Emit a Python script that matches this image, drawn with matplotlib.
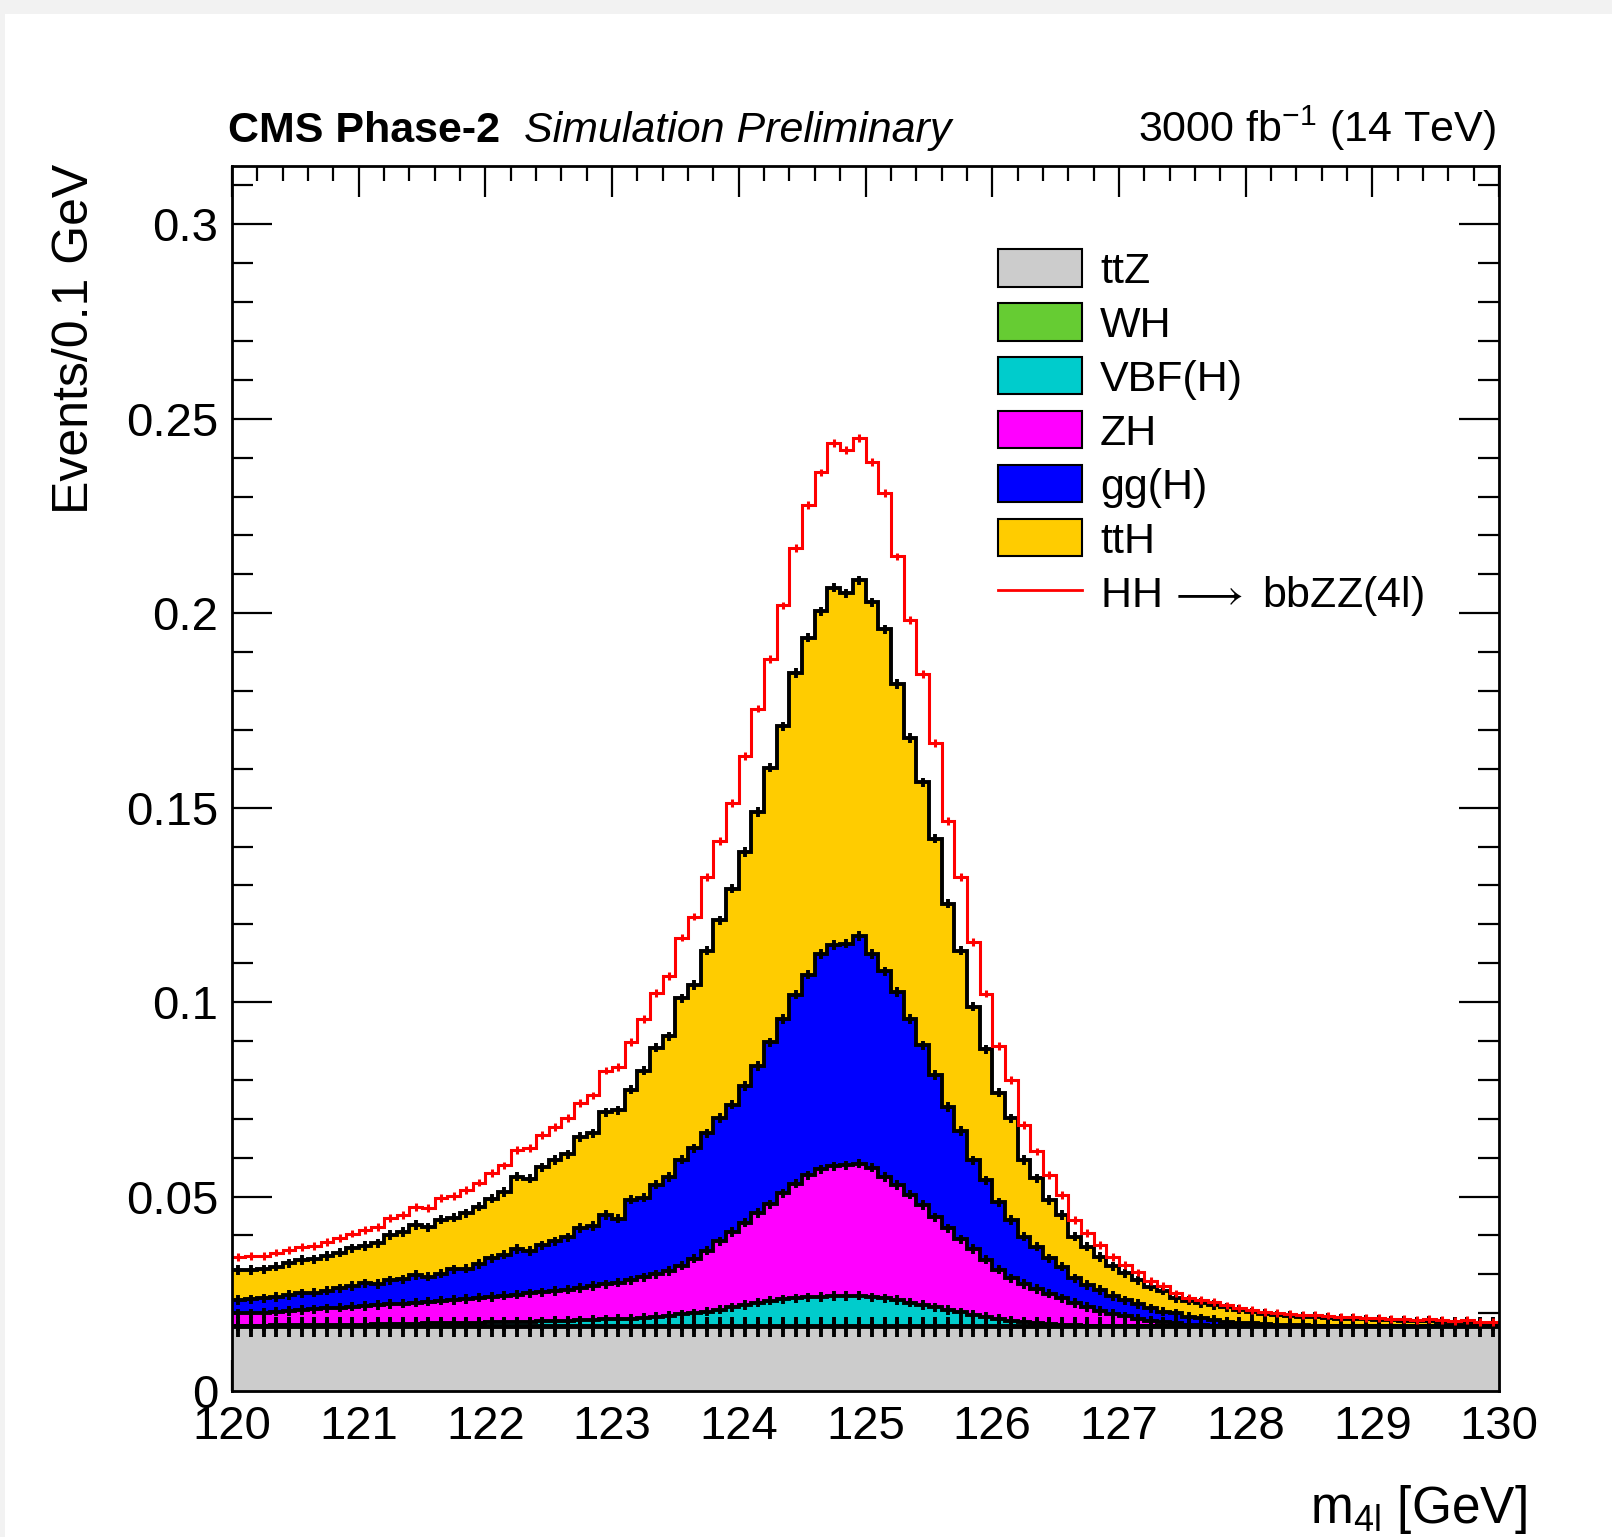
import numpy as np
import matplotlib
matplotlib.use("Agg")
import matplotlib.pyplot as plt
from matplotlib.patches import Patch, Rectangle
from matplotlib.lines import Line2D
from matplotlib.ticker import MultipleLocator, FixedLocator

plt.rcParams['font.family'] = ['Liberation Sans', 'DejaVu Sans']
plt.rcParams['mathtext.fontset'] = 'custom'
plt.rcParams['mathtext.rm'] = 'Liberation Sans'
plt.rcParams['mathtext.it'] = 'Liberation Sans:italic'

# m4l binning: 100 bins of 0.1 GeV
edges = np.linspace(120.0, 130.0, 101)

# per-process yields (events / 0.1 GeV), read bin by bin from the plot
ttZ = [0.0165] * 100

WH = [0.0001] * 30 + [0.0002] * 10 + [0.0003] * 16 + [0.0002] * 10 + [0.0001] * 34

VBF = [0.0002, 0.0002, 0.0002, 0.0003, 0.0003, 0.0003, 0.0004, 0.0004, 0.0004, 0.0005,
       0.0005, 0.0006, 0.0006, 0.0007, 0.0007, 0.0008, 0.0008, 0.0009, 0.0009, 0.0010,
       0.0011, 0.0011, 0.0012, 0.0012, 0.0013, 0.0014, 0.0015, 0.0016, 0.0017, 0.0018,
       0.0018, 0.0019, 0.0021, 0.0024, 0.0027, 0.0030, 0.0033, 0.0037, 0.0042, 0.0048,
       0.0053, 0.0059, 0.0064, 0.0068, 0.0070, 0.0073, 0.0074, 0.0076, 0.0076, 0.0077,
       0.0073, 0.0070, 0.0066, 0.0059, 0.0053, 0.0047, 0.0041, 0.0035, 0.0029, 0.0023,
       0.0018, 0.0014, 0.0010, 0.0007, 0.0005, 0.0004, 0.0003, 0.0002, 0.0002, 0.0001,
       0.0001, 0.0001, 0.0001, 0.0001, 0.0001, 0.0001, 0.0001, 0.0001, 0.0001, 0.0001,
       0.0001, 0.0000, 0.0000, 0.0000, 0.0000, 0.0000, 0.0000, 0.0000, 0.0000, 0.0000,
       0.0000, 0.0000, 0.0000, 0.0000, 0.0000, 0.0000, 0.0000, 0.0000, 0.0000, 0.0000]

ZH = [0.0032, 0.0032, 0.0033, 0.0035, 0.0037, 0.0039, 0.0040, 0.0043, 0.0044, 0.0046,
      0.0048, 0.0049, 0.0052, 0.0052, 0.0054, 0.0056, 0.0058, 0.0059, 0.0062, 0.0064,
      0.0065, 0.0068, 0.0070, 0.0073, 0.0075, 0.0077, 0.0080, 0.0083, 0.0087, 0.0090,
      0.0094, 0.0099, 0.0104, 0.0109, 0.0115, 0.0125, 0.0140, 0.0157, 0.0176, 0.0194,
      0.0212, 0.0231, 0.0248, 0.0272, 0.0295, 0.0314, 0.0328, 0.0334, 0.0336, 0.0340,
      0.0333, 0.0312, 0.0296, 0.0278, 0.0257, 0.0232, 0.0210, 0.0188, 0.0169, 0.0148,
      0.0127, 0.0109, 0.0098, 0.0088, 0.0078, 0.0067, 0.0057, 0.0048, 0.0038, 0.0031,
      0.0025, 0.0019, 0.0014, 0.0010, 0.0007, 0.0004, 0.0002, 0.0001, 0.0001, 0.0001,
      0.0001, 0.0001, 0.0001, 0.0001, 0.0001, 0.0001, 0.0000, 0.0000, 0.0000, 0.0000,
      0.0000, 0.0000, 0.0000, 0.0000, 0.0000, 0.0000, 0.0000, 0.0000, 0.0000, 0.0000]

ggH = [0.0034, 0.0036, 0.0037, 0.0038, 0.0041, 0.0043, 0.0043, 0.0045, 0.0050, 0.0053,
       0.0058, 0.0054, 0.0061, 0.0062, 0.0071, 0.0064, 0.0070, 0.0079, 0.0078, 0.0087,
       0.0099, 0.0106, 0.0117, 0.0109, 0.0121, 0.0128, 0.0134, 0.0154, 0.0154, 0.0179,
       0.0164, 0.0207, 0.0205, 0.0231, 0.0241, 0.0273, 0.0284, 0.0302, 0.0317, 0.0327,
       0.0351, 0.0378, 0.0417, 0.0449, 0.0486, 0.0516, 0.0554, 0.0569, 0.0570, 0.0585,
       0.0550, 0.0529, 0.0496, 0.0452, 0.0411, 0.0366, 0.0312, 0.0279, 0.0228, 0.0204,
       0.0173, 0.0150, 0.0122, 0.0109, 0.0091, 0.0082, 0.0064, 0.0057, 0.0054, 0.0046,
       0.0041, 0.0038, 0.0032, 0.0027, 0.0026, 0.0020, 0.0018, 0.0015, 0.0010, 0.0008,
       0.0006, 0.0005, 0.0004, 0.0003, 0.0002, 0.0001, 0.0001, 0.0001, 0.0001, 0.0001,
       0.0001, 0.0001, 0.0001, 0.0000, 0.0000, 0.0000, 0.0000, 0.0000, 0.0000, 0.0000]

ttH = [0.0077, 0.0075, 0.0075, 0.0078, 0.0081, 0.0086, 0.0086, 0.0089, 0.0092, 0.0097,
       0.0096, 0.0105, 0.0116, 0.0122, 0.0129, 0.0127, 0.0139, 0.0133, 0.0142, 0.0147,
       0.0154, 0.0161, 0.0186, 0.0186, 0.0200, 0.0209, 0.0214, 0.0234, 0.0239, 0.0264,
       0.0279, 0.0283, 0.0327, 0.0352, 0.0362, 0.0415, 0.0420, 0.0469, 0.0508, 0.0556,
       0.0602, 0.0653, 0.0706, 0.0752, 0.0827, 0.0866, 0.0881, 0.0919, 0.0901, 0.0915,
       0.0904, 0.0880, 0.0792, 0.0722, 0.0676, 0.0607, 0.0523, 0.0463, 0.0395, 0.0337,
       0.0282, 0.0261, 0.0197, 0.0176, 0.0150, 0.0133, 0.0107, 0.0098, 0.0085, 0.0077,
       0.0070, 0.0061, 0.0055, 0.0054, 0.0038, 0.0041, 0.0039, 0.0038, 0.0037, 0.0033,
       0.0028, 0.0026, 0.0024, 0.0023, 0.0022, 0.0022, 0.0022, 0.0019, 0.0019, 0.0017,
       0.0016, 0.0015, 0.0014, 0.0013, 0.0015, 0.0012, 0.0011, 0.0012, 0.0008, 0.0009]

HH = [0.0034, 0.0036, 0.0034, 0.0036, 0.0034, 0.0034, 0.0034, 0.0037, 0.0037, 0.0038,
      0.0041, 0.0041, 0.0043, 0.0044, 0.0047, 0.0049, 0.0055, 0.0056, 0.0060, 0.0062,
      0.0065, 0.0068, 0.0068, 0.0078, 0.0083, 0.0084, 0.0093, 0.0088, 0.0097, 0.0107,
      0.0112, 0.0122, 0.0132, 0.0141, 0.0156, 0.0156, 0.0176, 0.0190, 0.0205, 0.0220,
      0.0247, 0.0266, 0.0280, 0.0311, 0.0322, 0.0341, 0.0357, 0.0372, 0.0368, 0.0365,
      0.0361, 0.0350, 0.0328, 0.0303, 0.0278, 0.0246, 0.0213, 0.0190, 0.0167, 0.0143,
      0.0121, 0.0099, 0.0090, 0.0069, 0.0065, 0.0051, 0.0043, 0.0035, 0.0030, 0.0024,
      0.0021, 0.0020, 0.0015, 0.0012, 0.0013, 0.0008, 0.0009, 0.0007, 0.0005, 0.0005,
      0.0006, 0.0006, 0.0005, 0.0005, 0.0005, 0.0005, 0.0005, 0.0005, 0.0004, 0.0004,
      0.0004, 0.0004, 0.0004, 0.0004, 0.0004, 0.0004, 0.0004, 0.0004, 0.0003, 0.0003]

# stack order bottom -> top (same order as the legend, top -> bottom)
stack_names = ['ttZ', 'WH', 'VBF(H)', 'ZH', 'gg(H)', 'ttH']
stack_vals = [ttZ, WH, VBF, ZH, ggH, ttH]
stack_colors = ['#cccccc', '#66cc33', '#00cccc', '#ff00ff', '#0000ff', '#ffcc00']

W, H = 1612, 1537
fig = plt.figure(figsize=(W / 100, H / 100), dpi=100)
fig.patch.set_facecolor('#f2f2f2')
fig.add_artist(Rectangle((5 / W, 0), 1, 1 - 14 / H, transform=fig.transFigure,
                         facecolor='white', edgecolor='none', zorder=-5))

ax = fig.add_axes([232 / W, 146 / H, (1499 - 232) / W, (1391 - 166) / H])

centers = 0.5 * (edges[:-1] + edges[1:])
bottom = np.zeros(100)
tops = []
for name, vals, col in zip(stack_names, stack_vals, stack_colors):
    top = bottom + np.array(vals)
    ax.stairs(top, edges, baseline=bottom, fill=True, color=col, lw=0, zorder=2)
    tops.append(top)
    bottom = top

# black outlines and stat crosses on every stack boundary
for i, top in enumerate(tops):
    ax.stairs(top, edges, color='black', lw=2.8, zorder=3, baseline=None)
    err = 0.0025 if i == 0 else 0.0012
    ax.errorbar(centers, top, yerr=err, fmt='none', ecolor='black', elinewidth=2.8, zorder=4)

hh_top = tops[-1] + np.array(HH)
ax.stairs(hh_top, edges, color='red', lw=2.2, zorder=5, baseline=None)
ax.errorbar(centers, hh_top, yerr=0.0010, fmt='none', ecolor='red', elinewidth=2.2, zorder=5)

ax.set_xlim(120, 130)
ax.set_ylim(0, 0.315)
ax.xaxis.set_major_locator(MultipleLocator(1))
ax.xaxis.set_minor_locator(MultipleLocator(0.2))
ax.yaxis.set_major_locator(FixedLocator([0, 0.05, 0.1, 0.15, 0.2, 0.25, 0.3]))
ax.yaxis.set_minor_locator(MultipleLocator(0.01))
ax.set_yticklabels(['0', '0.05', '0.1', '0.15', '0.2', '0.25', '0.3'])
ax.tick_params(which='both', direction='in', top=True, right=True, labelsize=34, width=1.6)
ax.tick_params(axis='x', which='major', length=22, pad=10)
ax.tick_params(axis='x', which='minor', length=11)
ax.tick_params(axis='y', which='major', length=29, pad=10)
ax.tick_params(axis='y', which='minor', length=15)
for s in ax.spines.values():
    s.set_linewidth(2)
    s.set_zorder(6)

# legend: stack components top to bottom as ttZ ... ttH, then the HH line
handles = [Patch(facecolor=col, edgecolor='black', lw=1.5) for col in stack_colors]
handles.append(Line2D([], [], color='red', lw=2))
labels = stack_names + ['HH$\\,\\longrightarrow$ bbZZ(4l)']
leg = ax.legend(handles, labels, loc='upper left', bbox_to_anchor=(0.591, 0.946),
                fontsize=31, frameon=False, handlelength=1.95, handleheight=0.95,
                handletextpad=0.42, labelspacing=0.27, borderaxespad=0)

# header and axis titles
fig.text(228 / W, 1 - 142 / H, 'CMS Phase-2', fontsize=31, fontweight='bold', va='baseline')
fig.text(524 / W, 1 - 142 / H, 'Simulation Preliminary', fontsize=31, style='italic', va='baseline')
fig.text(1496 / W, 1 - 142 / H, '3000 fb$^{\\mathregular{-1}}$ (14 TeV)', fontsize=31,
         ha='right', va='baseline')
fig.text(75 / W, 1 - 164 / H, 'Events/0.1 GeV', fontsize=36, rotation=90, ha='center', va='top')
fig.text(1527 / W, 14 / H, 'm$_{\\mathregular{4l}}$ [GeV]', fontsize=37, ha='right', va='baseline')

fig.savefig('out.png', dpi=100, facecolor=fig.get_facecolor())
